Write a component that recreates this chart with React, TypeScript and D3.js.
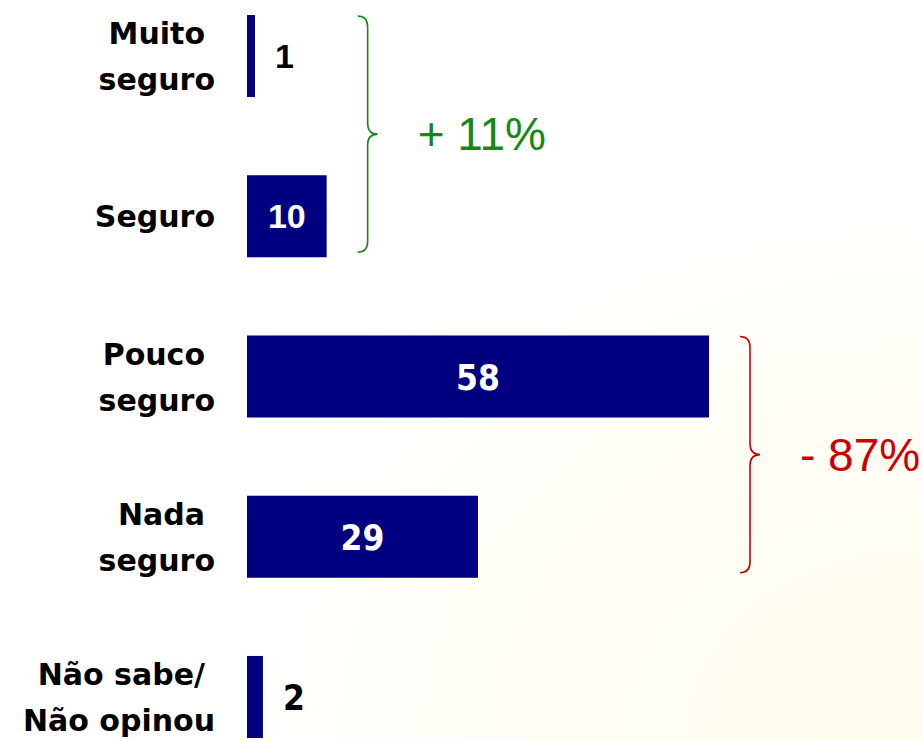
import React from "react";
import * as d3 from "d3";

const categories: string[][] = [
  ["Muito", "seguro"],
  ["Seguro"],
  ["Pouco", "seguro"],
  ["Nada", "seguro"],
  ["Não sabe/", "Não opinou"],
];
const values: number[] = [1, 10, 58, 29, 2];
const groupNames: string[] = ["+ 11%", "- 87%"];
const groupMembers: number[][] = [
  [0, 1],
  [2, 3],
];
const groupColors: string[] = ["#168816", "#cc0000"];

const W = 922;
const H = 740;
const LEFT = 247;
const NAVY = "#000080";

export default function App() {
  const keys = categories.map((c) => c.join(" "));
  const x = d3.scaleLinear().domain([0, 58]).range([LEFT, 709]);
  const y = d3
    .scaleBand<string>()
    .domain(keys)
    .range([15, 738])
    .paddingInner(0.488)
    .paddingOuter(0);
  const bw = y.bandwidth();
  const catFont = "'DejaVu Sans', Tahoma, sans-serif";
  const lineH = 46;
  const cap = 22;

  const bracePath = (x0: number, top: number, bottom: number) => {
    const mid = (top + bottom) / 2;
    const r = 11;
    const xm = x0 + 10;
    const xt = x0 + 20;
    return `M${x0},${top} Q${xm},${top} ${xm},${top + r} L${xm},${mid - r} Q${xm},${mid} ${xt},${mid} Q${xm},${mid} ${xm},${mid + r} L${xm},${bottom - r} Q${xm},${bottom} ${x0},${bottom}`;
  };

  return (
    <div style={{ position: "absolute", left: 0, top: 0 }}>
      <svg width={W} height={H} style={{ display: "block" }}>
        <defs>
          <radialGradient id="bg" cx="1" cy="1" r="0.8">
            <stop offset="0" stopColor="#fffcec" />
            <stop offset="0.6" stopColor="#fffef6" />
            <stop offset="1" stopColor="#ffffff" />
          </radialGradient>
        </defs>
        <rect x={0} y={0} width={W} height={H} fill="url(#bg)" />
        {keys.map((k, i) => {
          const y0 = y(k)!;
          const cy = y0 + bw / 2;
          const lines = categories[i];
          const n = lines.length;
          const firstBase = cy - (lineH * (n - 1) - cap) / 2;
          const barEnd = x(values[i]);
          const inside = barEnd - LEFT > 50;
          const arial = i < 2;
          return (
            <g key={k}>
              <rect
                x={LEFT}
                y={y0}
                width={barEnd - LEFT}
                height={bw}
                fill={NAVY}
              />
              <text
                fontFamily={catFont}
                fontWeight="bold"
                fontSize={30}
                fill="#000"
                textAnchor="end"
              >
                {lines.map((l, j) => (
                  <tspan
                    key={j}
                    x={j === n - 1 ? 215 : 205}
                    y={firstBase + j * lineH}
                  >
                    {l}
                  </tspan>
                ))}
              </text>
              <text
                x={inside ? (LEFT + barEnd) / 2 : barEnd + 20}
                y={cy + (arial ? 12 : 13)}
                textAnchor={inside ? "middle" : "start"}
                fontFamily={
                  arial
                    ? "'Liberation Sans', Arial, sans-serif"
                    : "'DejaVu Sans Condensed', 'DejaVu Sans', sans-serif"
                }
                fontWeight="bold"
                fontSize={arial ? 34 : 35}
                fill={inside ? "#fff" : "#000"}
              >
                {values[i]}
              </text>
            </g>
          );
        })}
        {groupNames.map((g, gi) => {
          const mem = groupMembers[gi];
          const top = y(keys[mem[0]])! + 1;
          const bottom = y(keys[mem[mem.length - 1]])! + bw - 5;
          const maxEnd = x(d3.max(mem, (m) => values[m])!);
          const x0 = maxEnd + 31;
          const mid = (top + bottom) / 2;
          return (
            <g key={g}>
              <path
                d={bracePath(x0, top, bottom)}
                fill="none"
                stroke={groupColors[gi]}
                strokeWidth={1.6}
              />
              <text
                x={x0 + 60}
                y={mid + 16}
                fontFamily="'Liberation Sans', Arial, sans-serif"
                fontSize={46}
                fill={groupColors[gi]}
              >
                {g}
              </text>
            </g>
          );
        })}
      </svg>
    </div>
  );
}
